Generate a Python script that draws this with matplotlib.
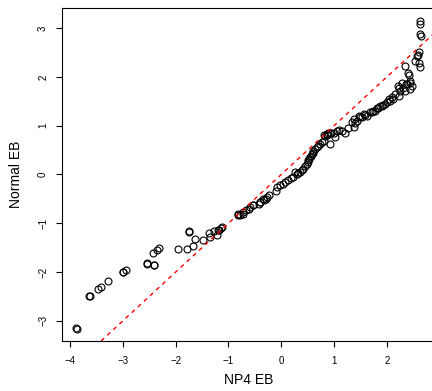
import matplotlib
matplotlib.use("Agg")
import matplotlib.pyplot as plt

plt.rcParams['font.family'] = ['Liberation Sans', 'DejaVu Sans']

# NP4 EB (x) vs Normal EB (y)
np4_eb = [
    -3.88, -3.87, -3.63, -3.62, -3.46, -3.41, -3.27, -3.00, -2.99, -2.94,
    -2.55, -2.54, -2.41, -2.40, -2.43, -2.35, -2.32, -1.96, -1.79, -1.75,
    -1.74, -1.68, -1.63, -1.49, -1.37, -1.34, -1.27, -1.22, -1.19, -1.17,
    -1.14, -1.12, -0.82, -0.81, -0.79, -0.73, -0.72, -0.67, -0.62, -0.60,
    -0.54, -0.53, -0.43, -0.41, -0.40, -0.34, -0.32, -0.29, -0.27, -0.24,
    -0.10, -0.09, -0.02, 0.04, 0.08, 0.13, 0.18, 0.23, 0.26, 0.29,
    0.32, 0.36, 0.39, 0.42, 0.45, 0.48, 0.50, 0.51, 0.53, 0.55,
    0.57, 0.58, 0.60, 0.61, 0.64, 0.67, 0.70, 0.73, 0.77, 0.80,
    0.80, 0.83, 0.86, 0.86, 0.89, 0.92, 0.93, 0.95, 0.99, 1.02,
    1.05, 1.10, 1.15, 1.21, 1.27, 1.34, 1.37, 1.37, 1.40, 1.43,
    1.47, 1.49, 1.53, 1.56, 1.59, 1.62, 1.68, 1.71, 1.74, 1.78,
    1.81, 1.84, 1.87, 1.90, 1.93, 1.97, 2.00, 2.03, 2.06, 2.10,
    2.12, 2.16, 2.20, 2.22, 2.22, 2.25, 2.28, 2.31, 2.34, 2.34,
    2.36, 2.38, 2.40, 2.41, 2.43, 2.44, 2.44, 2.48, 2.53, 2.57,
    2.59, 2.60, 2.60, 2.62, 2.64, 2.63, 2.63, 2.63,
]
normal_eb = [
    -3.15, -3.16, -2.49, -2.48, -2.34, -2.30, -2.18, -1.99, -2.00, -1.96,
    -1.83, -1.82, -1.86, -1.85, -1.61, -1.54, -1.51, -1.52, -1.53, -1.18,
    -1.16, -1.46, -1.33, -1.35, -1.19, -1.28, -1.16, -1.23, -1.13, -1.14,
    -1.10, -1.08, -0.83, -0.80, -0.84, -0.80, -0.77, -0.73, -0.70, -0.67,
    -0.63, -0.63, -0.60, -0.56, -0.57, -0.50, -0.53, -0.50, -0.46, -0.43,
    -0.33, -0.26, -0.22, -0.19, -0.16, -0.12, -0.08, -0.05, 0.05, 0.01,
    0.03, 0.05, 0.09, 0.12, 0.17, 0.22, 0.25, 0.29, 0.32, 0.35,
    0.38, 0.42, 0.45, 0.49, 0.52, 0.56, 0.59, 0.63, 0.66, 0.69,
    0.80, 0.78, 0.83, 0.80, 0.85, 0.86, 0.63, 0.84, 0.86, 0.76,
    0.90, 0.92, 0.90, 0.86, 0.96, 1.07, 1.14, 0.97, 1.05, 1.10,
    1.20, 1.17, 1.18, 1.24, 1.22, 1.20, 1.27, 1.27, 1.31, 1.31,
    1.37, 1.37, 1.40, 1.41, 1.43, 1.44, 1.48, 1.55, 1.51, 1.58,
    1.54, 1.65, 1.82, 1.61, 1.78, 1.71, 1.88, 1.78, 1.71, 2.22,
    1.86, 1.85, 2.08, 2.04, 1.92, 1.88, 1.75, 1.82, 2.33, 2.43,
    2.45, 2.50, 2.29, 2.20, 2.84, 2.88, 3.08, 3.14,
]

x_ticks = [-4, -3, -2, -1, 0, 1, 2]
y_ticks = [-3, -2, -1, 0, 1, 2, 3]
x_label = "NP4 EB"
y_label = "Normal EB"

fig = plt.figure(figsize=(4.32, 3.91), dpi=100)
ax = fig.add_axes([0.1435, 0.128, 0.8635, 0.8515])

ax.plot(np4_eb, normal_eb, linestyle='none',
        marker='o', markersize=5, markerfacecolor='none',
        markeredgecolor='black', markeredgewidth=0.8)
ax.axline((0, 0), slope=1, color='red', linestyle=(0, (3, 3)), linewidth=1)

ax.set_xlim(-4.15, 2.91)
ax.set_ylim(-3.41, 3.41)
ax.set_xticks(x_ticks)
ax.set_yticks(y_ticks)
ax.set_xticklabels([str(t).replace('-', '\u2212') for t in x_ticks])
ax.set_yticklabels([str(t).replace('-', '\u2212') for t in y_ticks],
                   rotation=90, va='center')
ax.tick_params(axis='x', labelsize=7, length=4, width=0.8, pad=7)
ax.tick_params(axis='y', labelsize=7, length=4, width=0.8, pad=6)
for s in ax.spines.values():
    s.set_linewidth(0.8)
ax.set_xlabel(x_label, fontsize=10, labelpad=5)
ax.set_ylabel(y_label, fontsize=10, labelpad=11)

fig.savefig("out.png", dpi=100)
